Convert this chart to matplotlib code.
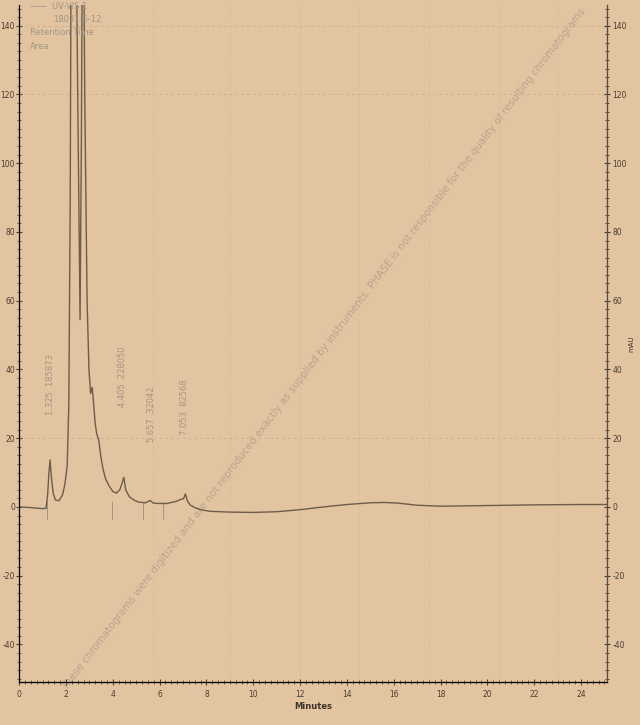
import matplotlib
matplotlib.use('Agg')
import matplotlib.pyplot as plt
from matplotlib.ticker import MultipleLocator

plt.rcParams['axes.unicode_minus'] = False

# Chromatogram trace (minutes, mAU)
time_min = [0.0, 0.5, 1.0, 1.15, 1.22, 1.27, 1.32, 1.37, 1.45, 1.55, 1.7, 1.85, 1.95,
            2.05, 2.12, 2.18, 2.22, 2.3, 2.4, 2.5, 2.6, 2.66, 2.72, 2.8, 2.9, 2.98,
            3.05, 3.12, 3.18, 3.25, 3.32, 3.4, 3.48, 3.58, 3.7, 3.85, 4.0, 4.15,
            4.3, 4.4, 4.47, 4.55, 4.7, 4.9, 5.1, 5.4, 5.6, 5.7, 5.9, 6.3, 6.7,
            6.9, 7.02, 7.1, 7.18, 7.3, 7.5, 7.8, 8.2, 9.0, 10.0, 11.0, 12.0,
            13.0, 14.0, 15.0, 15.6, 16.2, 17.0, 18.0, 19.0, 20.0, 22.0, 24.0, 25.1]
signal = [0.0, -0.2, -0.5, -0.4, 4.0, 10.0, 13.7, 9.0, 4.0, 2.0, 1.8, 3.5, 6.5,
          12.0, 30.0, 90.0, 170.0, 210.0, 190.0, 120.0, 54.5, 110.0, 200.0, 120.0, 60.0, 40.0,
          33.0, 34.8, 30.0, 24.0, 21.0, 19.5, 15.0, 11.0, 8.0, 6.0, 4.5, 4.0,
          5.0, 7.0, 8.6, 5.0, 3.0, 2.0, 1.4, 1.2, 1.9, 1.2, 1.0, 1.0, 1.6,
          2.2, 2.4, 3.8, 1.8, 0.6, -0.2, -0.9, -1.3, -1.5, -1.6, -1.4, -0.8,
          0.0, 0.7, 1.2, 1.3, 1.1, 0.5, 0.2, 0.3, 0.4, 0.6, 0.7, 0.7]

# Integrated peaks: retention time, area, label position
peak_rt = [1.325, 4.405, 5.657, 7.053]
peak_area = [185873, 228050, 32042, 82568]
peak_label_y = [35.5, 38, 27, 29]

# Integration event markers
event_rt = [1.2, 3.95, 5.3, 6.15]

bg = '#e2c4a0'
ink = '#6e5c4a'
faint = '#a39584'

fig = plt.figure(figsize=(6.4, 7.25), dpi=100, facecolor=bg)
ax = fig.add_axes([0.030, 0.059, 0.918, 0.934], facecolor=bg)

ax.set_xlim(0, 25.1)
ax.set_ylim(-51, 146)

# faint dashed grid
for y in [20, 120, 140]:
    ax.axhline(y, color='#cdb18f', lw=0.7, ls=(0, (3, 3)), zorder=0)
for x in [5.7, 9.0, 12.0, 14.5, 17.5, 20.5, 23.0]:
    ax.axvline(x, color='#d6b995', lw=0.6, ls=(0, (4, 4)), zorder=0)

ax.plot(time_min, signal, color=ink, lw=1.0, zorder=3)

for rt in event_rt:
    ax.plot([rt, rt], [-3.5, 1.5], color=faint, lw=0.7, zorder=2)

for rt, area, ly in zip(peak_rt, peak_area, peak_label_y):
    ax.text(rt, ly, f'{rt:.3f}  {area}', rotation=90, ha='center', va='center',
            fontsize=6, color=faint, zorder=2)

# legend block in upper left
legend_lines = ['\u2014\u2014  UV-VIS 1', '18031-6-12', 'Retention Time', 'Area']
for i, s in enumerate(legend_lines):
    ax.text(0.45 + (1.0 if i == 1 else 0), 147 - i * 3.9, s, fontsize=6, color=faint,
            va='top', ha='left', zorder=4)

# diagonal disclaimer
ax.text(13.0, 46, 'These chromatograms were digitized and are not reproduced exactly as supplied by instruments. '
        'PHASE is not responsible for the quality of resulting chromatograms',
        rotation=52.6, rotation_mode='anchor', ha='center', va='center',
        fontsize=7.4, color='#b19f8c', alpha=0.85, zorder=1)

ax.spines['top'].set_visible(False)
for spine in ['left', 'right', 'bottom']:
    ax.spines[spine].set_color('#5b4c3e')
    ax.spines[spine].set_linewidth(0.9)

ax.xaxis.set_major_locator(MultipleLocator(2))
ax.xaxis.set_minor_locator(MultipleLocator(0.25))
ax.yaxis.set_major_locator(MultipleLocator(20))
ax.yaxis.set_minor_locator(MultipleLocator(2.5))
ax.tick_params(which='both', direction='inout', colors='#4a3d31', labelsize=5.5)
ax.tick_params(which='major', length=4, width=0.8)
ax.tick_params(which='minor', length=2.5, width=0.6)
ax.tick_params(axis='y', pad=1)
ax.set_xlabel('Minutes', fontsize=6, color='#3e3328', labelpad=2, fontweight='bold')

ax2 = ax.twinx()
ax2.set_ylim(ax.get_ylim())
ax2.spines['top'].set_visible(False)
ax2.spines['right'].set_color('#5b4c3e')
ax2.yaxis.set_major_locator(MultipleLocator(20))
ax2.yaxis.set_minor_locator(MultipleLocator(2.5))
ax2.tick_params(which='both', direction='inout', colors='#4a3d31', labelsize=5.5, pad=2)
ax2.tick_params(which='major', length=4, width=0.8)
ax2.tick_params(which='minor', length=2.5, width=0.6)
ax2.set_ylabel('mAU', fontsize=5, color='#3e3328', labelpad=1)

fig.savefig('out.png', dpi=100, facecolor=bg)
